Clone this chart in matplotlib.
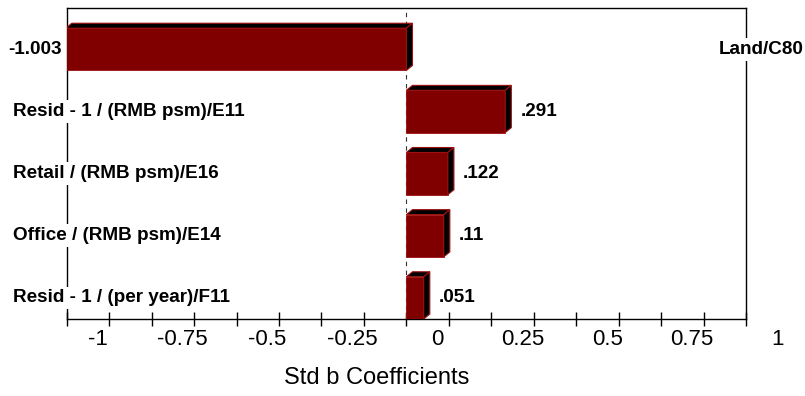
import numpy as np
import matplotlib
matplotlib.use("Agg")
import matplotlib.pyplot as plt
from matplotlib.patches import Polygon

plt.rcParams['font.family'] = ['Liberation Sans', 'DejaVu Sans']

# data (top to bottom)
labels = ["Land/C80", "Resid - 1 / (RMB psm)/E11", "Retail / (RMB psm)/E16",
          "Office / (RMB psm)/E14", "Resid - 1 / (per year)/F11"]
values = [-1.003, 0.291, 0.122, 0.11, 0.051]
value_text = ["-1.003", ".291", ".122", ".11", ".051"]
tick_labels = ["-1", "-0.75", "-0.5", "-0.25", "0", "0.25", "0.5", "0.75", "1"]
tick_values = [-1, -0.75, -0.5, -0.25, 0, 0.25, 0.5, 0.75, 1]

front = "#800000"
edge = "#a01010"

fig = plt.figure(figsize=(8.05, 3.96), dpi=100)
ax = fig.add_axes([0.0829, 0.1944, 0.8438, 0.7846])
ax.set_xlim(-1, 1)
ax.set_ylim(0, 5)

n = len(values)
h = 0.68
bottoms = np.arange(n)[::-1]  # top bar highest
dx, dy = 0.018, 0.08

# dashed zero line
ax.axvline(0, color="#333333", lw=0.8, ls=(0, (4, 4)), zorder=1)

bars = ax.barh(bottoms, values, height=h, align="edge", color=front,
               edgecolor=edge, lw=0.6, zorder=3)

for b, v in zip(bottoms, values):
    x0, x1 = min(0, v), max(0, v)
    top = b + h
    ax.add_patch(Polygon([(x0, top), (x1, top), (x1 + dx, top + dy), (x0 + dx, top + dy)],
                         closed=True, facecolor="black", edgecolor=edge, lw=0.8, zorder=3))
    ax.add_patch(Polygon([(x1, b), (x1, top), (x1 + dx, top + dy), (x1 + dx, b + dy)],
                         closed=True, facecolor="black", edgecolor=edge, lw=0.8, zorder=3))

# labels
fs = 13.6
box = dict(facecolor="white", edgecolor="none", pad=2)
for b, v, lab, vt in zip(bottoms, values, labels, value_text):
    yc = b + h / 2
    if v < 0:
        ax.annotate(vt, (v, yc), xytext=(-3, 0), textcoords="offset points",
                    ha="right", va="center", fontsize=fs, fontweight="bold",
                    annotation_clip=False, zorder=5)
        ax.text(1.17, yc, lab, ha="right", va="center", fontsize=fs,
                fontweight="bold", bbox=box, clip_on=False, zorder=5)
    else:
        ax.annotate(vt, (v, yc), xytext=(11, 0), textcoords="offset points",
                    ha="left", va="center", fontsize=fs, fontweight="bold",
                    annotation_clip=False, zorder=5)
        ax.text(-1.158, yc, lab, ha="left", va="center", fontsize=fs,
                fontweight="bold", bbox=box, clip_on=False, zorder=5)

# axis styling
for s in ax.spines.values():
    s.set_color("black")
    s.set_linewidth(1.0)
    s.set_zorder(2)
ax.set_yticks([])
ax.set_xticks(np.arange(-1, 1.001, 0.125))
ax.set_xticklabels([])
ax.tick_params(axis="x", direction="inout", length=10, width=1.0, color="black")

# tick labels are shifted relative to the tick marks in the original
shift = 0.0913
for tv, tl in zip(tick_values, tick_labels):
    ax.text(tv + shift, -0.33, tl, ha="center", va="center", fontsize=16,
            clip_on=False)

fig.text(376.5 / 805, 1 - 378 / 396, "Std b Coefficients", ha="center",
         va="center", fontsize=17)

fig.savefig("out.png", dpi=100)
